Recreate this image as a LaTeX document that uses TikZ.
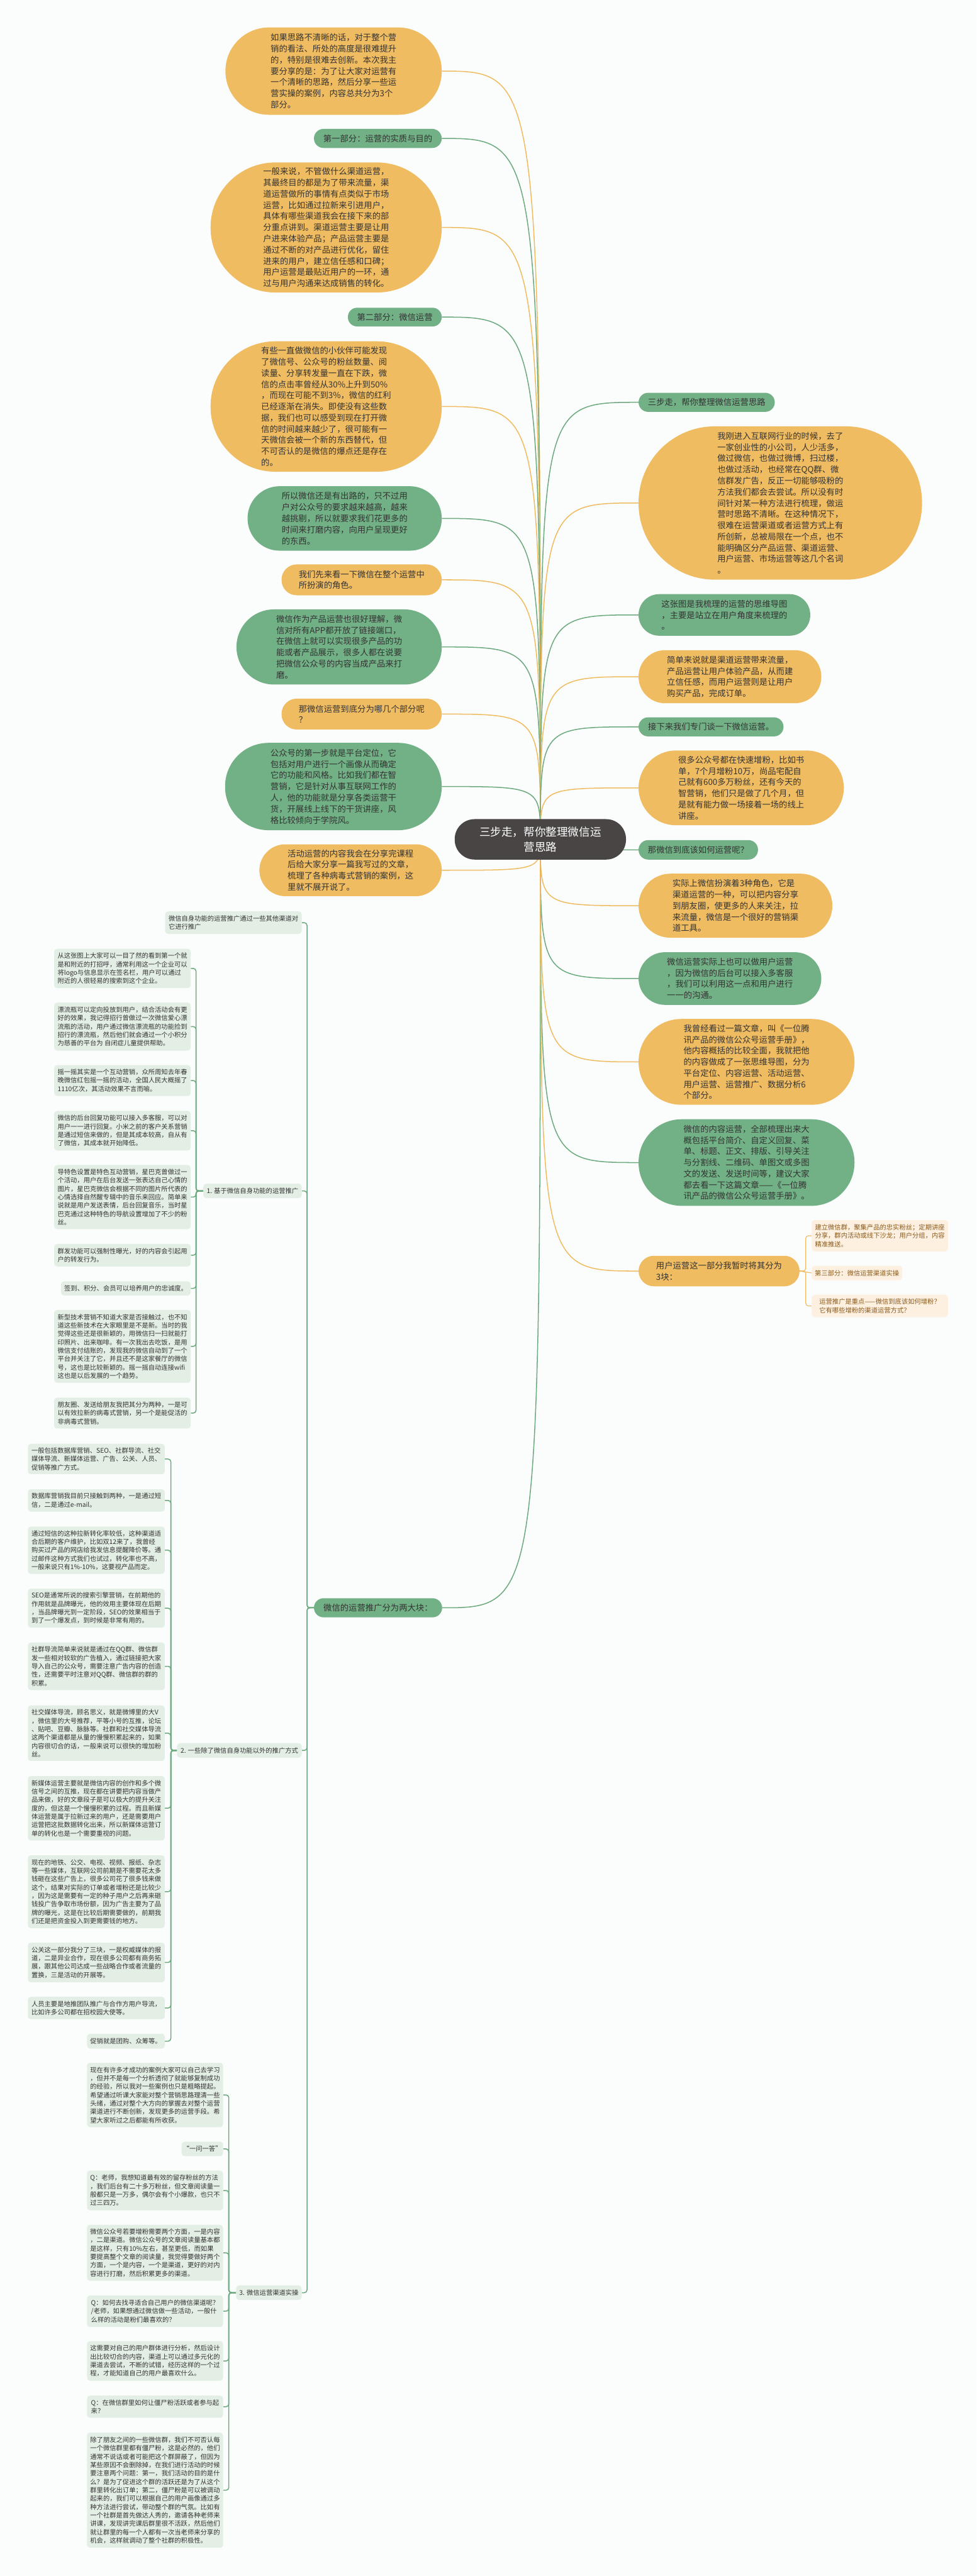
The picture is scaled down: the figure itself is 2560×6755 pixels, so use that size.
\documentclass[tikz,border=0pt]{standalone}
\usepackage{fontspec}
\setmainfont{Noto Sans CJK SC}
\usetikzlibrary{calc}
\pgfdeclarelayer{bg}
\pgfsetlayers{bg,main}
\definecolor{org}{HTML}{F0BC62}
\definecolor{grn}{HTML}{72B085}
\definecolor{dark}{HTML}{4A4545}
\definecolor{lgr}{HTML}{E3EEE5}
\definecolor{lor}{HTML}{FDF0E1}
\definecolor{brn}{HTML}{8A5A1A}
\definecolor{txt}{HTML}{333333}
\definecolor{bgc}{HTML}{FBFDFD}
\definecolor{gline}{HTML}{6DAA80}
\definecolor{oline}{HTML}{F0BC62}
\newcommand\fm{\fontsize{22}{29.3}\selectfont}
\newcommand\fl{\fontsize{17}{22}\selectfont}
\newcommand\fc{\fontsize{29}{39}\selectfont}
\begin{document}
\begin{tikzpicture}[x=1pt,y=-1pt,
 nb/.style={inner sep=0pt, align=left, text=txt, font=\fm},
 on/.style={nb, fill=org},
 gn/.style={nb, fill=grn},
 lf/.style={inner sep=0pt, align=left, text=txt, font=\fl, fill=lgr, rounded corners=8},
 lo/.style={inner sep=0pt, align=left, text=brn, font=\fl, fill=lor, rounded corners=8},
 gl/.style={draw=gline, line width=2.5pt},
 ol/.style={draw=oline, line width=2.5pt},
 tr/.style={draw=gline, line width=2.5pt, rounded corners=7},
]
\useasboundingbox (0,0) rectangle (2560,6755);
% ---------- central
\node[fill=dark, text=white, font=\fc, align=center, inner sep=0pt, minimum width=449, minimum height=106, rounded corners=52] (C) at (1416.5,2201) {三步走，帮你整理微信运\\营思路};
% ---------- upper left
\node[on, minimum width=567, minimum height=229, rounded corners=114] (U1) at (874.5,186.5) {如果思路不清晰的话，对于整个营\\销的看法、所处的高度是很难提升\\的，特别是很难去创新。本次我主\\要分享的是：为了让大家对运营有\\一个清晰的思路，然后分享一些运\\营实操的案例，内容总共分为3个\\部分。};
\node[gn, minimum width=335, minimum height=50, rounded corners=25] (U2) at (990.5,363) {第一部分：运营的实质与目的};
\node[on, minimum width=606, minimum height=341, rounded corners=170] (U3) at (855,596.5) {一般来说，不管做什么渠道运营，\\其最终目的都是为了带来流量，渠\\道运营做所的事情有点类似于市场\\运营，比如通过拉新来引进用户，\\具体有哪些渠道我会在接下来的部\\分重点讲到。渠道运营主要是让用\\户进来体验产品；产品运营主要是\\通过不断的对产品进行优化，留住\\进来的用户，建立信任感和口碑；\\用户运营是最贴近用户的一环，通\\过与用户沟通来达成销售的转化。};
\node[gn, minimum width=246, minimum height=49, rounded corners=24] (U4) at (1035,831.5) {第二部分：微信运营};
\node[on, minimum width=606, minimum height=342, rounded corners=170] (U5) at (855,1066) {有些一直做微信的小伙伴可能发现\\了微信号、公众号的粉丝数量、阅\\读量、分享转发量一直在下跌，微\\信的点击率曾经从30\%上升到50\%\\，而现在可能不到3\%，微信的红利\\已经逐渐在消失。即使没有这些数\\据，我们也可以感受到现在打开微\\信的时间越来越少了，很可能有一\\天微信会被一个新的东西替代，但\\不可否认的是微信的爆点还是存在\\的。};
\node[gn, minimum width=509, minimum height=169, rounded corners=84] (U6) at (903.5,1359.5) {所以微信还是有出路的，只不过用\\户对公众号的要求越来越高，越来\\越挑剔，所以就要求我们花更多的\\时间来打磨内容，向用户呈现更好\\的东西。};
\node[on, minimum width=420, minimum height=81, rounded corners=40] (U7) at (948,1520.5) {我们先来看一下微信在整个运营中\\所扮演的角色。};
\node[gn, minimum width=538, minimum height=197, rounded corners=98] (U8) at (889,1696.5) {微信作为产品运营也很好理解，微\\信对所有APP都开放了链接端口，\\在微信上就可以实现很多产品的功\\能或者产品展示，很多人都在说要\\把微信公众号的内容当成产品来打\\磨。};
\node[on, minimum width=420, minimum height=81, rounded corners=40] (U9) at (948,1872.5) {那微信运营到底分为哪几个部分呢\\？};
\node[gn, minimum width=568, minimum height=229, rounded corners=114] (U10) at (874,2062.5) {公众号的第一步就是平台定位，它\\包括对用户进行一个画像从而确定\\它的功能和风格。比如我们都在智\\营销，它是针对从事互联网工作的\\人，他的功能就是分享各类运营干\\货，开展线上线下的干货讲座，风\\格比较倾向于学院风。};
\node[on, minimum width=478, minimum height=136, rounded corners=68] (U11) at (919,2282) {活动运营的内容我会在分享完课程\\后给大家分享一篇我写过的文章，\\梳理了各种病毒式营销的案例，这\\里就不展开说了。};
% ---------- right
\node[gn, minimum width=357, minimum height=50, rounded corners=25] (R1) at (1852.5,1055) {三步走，帮你整理微信运营思路};
\node[on, minimum width=743, minimum height=402, rounded corners=200] (R2) at (2045.5,1319) {我刚进入互联网行业的时候，去了\\一家创业性的小公司，人少活多，\\做过微信，也做过微博，扫过楼，\\也做过活动，也经常在QQ群、微\\信群发广告，反正一切能够吸粉的\\方法我们都会去尝试。所以没有时\\间针对某一种方法进行梳理，做运\\营时思路不清晰。在这种情况下，\\很难在运营渠道或者运营方式上有\\所创新，总被局限在一个点，也不\\能明确区分产品运营、渠道运营、\\用户运营、市场运营等这几个名词\\。};
\node[gn, minimum width=450, minimum height=109, rounded corners=54] (R3) at (1899,1612.5) {这张图是我梳理的运营的思维导图\\，主要是站立在用户角度来梳理的\\。};
\node[on, minimum width=479, minimum height=139, rounded corners=69] (R4) at (1913.5,1774.5) {简单来说就是渠道运营带来流量，\\产品运营让用户体验产品，从而建\\立信任感，而用户运营则是让用户\\购买产品，完成订单。};
\node[gn, minimum width=380, minimum height=50, rounded corners=25] (R5) at (1864,1906) {接下来我们专门谈一下微信运营。};
\node[on, minimum width=538, minimum height=196, rounded corners=98] (R6) at (1943,2066) {很多公众号都在快速增粉，比如书\\单，7个月增粉10万，尚品宅配自\\己就有600多万粉丝，还有今天的\\智营销，他们只是做了几个月，但\\是就有能力做一场接着一场的线上\\讲座。};
\node[gn, minimum width=313, minimum height=51, rounded corners=25] (R7) at (1830.5,2228.5) {那微信到底该如何运营呢？};
\node[on, minimum width=508, minimum height=168, rounded corners=84] (R8) at (1928,2375) {实际上微信扮演着3种角色，它是\\渠道运营的一种，可以把内容分享\\到朋友圈，使更多的人来关注，拉\\来流量，微信是一个很好的营销渠\\道工具。};
\node[gn, minimum width=479, minimum height=138, rounded corners=69] (R9) at (1913.5,2566) {微信运营实际上也可以做用户运营\\，因为微信的后台可以接入多客服\\，我们可以利用这一点和用户进行\\一一的沟通。};
\node[on, minimum width=566, minimum height=225, rounded corners=112] (R10) at (1957,2784.5) {我曾经看过一篇文章，叫《一位腾\\讯产品的微信公众号运营手册》，\\他内容概括的比较全面，我就把他\\的内容做成了一张思维导图，分为\\平台定位、内容运营、活动运营、\\用户运营、运营推广、数据分析6\\个部分。};
\node[gn, minimum width=566, minimum height=227, rounded corners=113] (R11) at (1957,3048.5) {微信的内容运营，全部梳理出来大\\概包括平台简介、自定义回复、菜\\单、标题、正文、排版、引导关注\\与分割线、二维码、单图文或多图\\文的发送、发送时间等，建议大家\\都去看一下这篇文章——《一位腾\\讯产品的微信公众号运营手册》。};
\node[on, minimum width=422, minimum height=80, rounded corners=40] (R12) at (1885,3333) {用户运营这一部分我暂时将其分为\\3块：};
\node[lo, minimum width=357, minimum height=83] (K1) at (2306.5,3240.5) {建立微信群，聚集产品的忠实粉丝；定期讲座\\分享，群内活动或线下沙龙；用户分组，内容\\精准推送。};
\node[lo, minimum width=237, minimum height=38] (K2) at (2246.5,3338) {第三部分：微信运营渠道实操};
\node[lo, minimum width=357, minimum height=59] (K3) at (2306.5,3424.5) {运营推广是重点——微信到底该如何增粉？\\它有哪些增粉的渠道运营方式？};
% ---------- lower left tree
\node[gn, minimum width=336, minimum height=50, rounded corners=25] (P) at (991,4216) {微信的运营推广分为两大块：};
\node[lf, minimum width=358, minimum height=59] (A0) at (612,2419.5) {微信自身功能的运营推广通过一些其他渠道对\\它进行推广};
\node[lf, minimum width=258, minimum height=38] (A1) at (662,3123) {1. 基于微信自身功能的运营推广};
\node[lf, minimum width=327, minimum height=38] (A2) at (627.5,4590) {2. 一些除了微信自身功能以外的推广方式};
\node[lf, minimum width=172, minimum height=38] (A3) at (705,6012) {3. 微信运营渠道实操};
% A1 leaves
\node[lf, minimum width=358, minimum height=103] (S1) at (321,2539.5) {从这张图上大家可以一目了然的看到第一个就\\是和附近的打招呼，通常利用这一个企业可以\\将logo与信息显示在签名栏，用户可以通过\\附近的人很轻易的搜索到这个企业。};
\node[lf, minimum width=358, minimum height=126] (S2) at (321,2692) {漂流瓶可以定向投放到用户，结合活动会有更\\好的效果，我记得招行曾做过一次微信爱心漂\\流瓶的活动，用户通过微信漂流瓶的功能捡到\\招行的漂流瓶，然后他们就会通过一个小积分\\为慈善的平台为 自闭症儿童提供帮助。};
\node[lf, minimum width=358, minimum height=81] (S3) at (321,2833.5) {摇一摇其实是一个互动营销，众所周知去年春\\晚微信红包摇一摇的活动，全国人民大概摇了\\1110亿次，其活动效果不言而喻。};
\node[lf, minimum width=358, minimum height=104] (S4) at (321,2965) {微信的后台回复功能可以接入多客服，可以对\\用户一一进行回复。小米之前的客户关系营销\\是通过短信来做的，但是其成本较高，自从有\\了微信，其成本就开始降低。};
\node[lf, minimum width=358, minimum height=168] (S5) at (321,3139) {导特色设置是特色互动营销，星巴克曾做过一\\个活动，用户在后台发送一张表达自己心情的\\图片，星巴克微信会根据不同的图片所代表的\\心情选择自然醒专辑中的音乐来回应。简单来\\说就是用户发送表情，后台回复音乐，当时星\\巴克通过这种特色的导航设置增加了不少的粉\\丝。};
\node[lf, minimum width=358, minimum height=59] (S6) at (321,3291.5) {群发功能可以强制性曝光，好的内容会引起用\\户的转发行为。};
\node[lf, minimum width=340, minimum height=37] (S7) at (330,3378.5) {签到、积分、会员可以培养用户的忠诚度。};
\node[lf, minimum width=358, minimum height=191] (S8) at (321,3530.5) {新型技术营销不知道大家是否接触过，也不知\\道这些新技术在大家眼里是不是新。当时的我\\觉得这些还是很新颖的，用微信扫一扫就能打\\印照片、出来咖啡。有一次我出去吃饭，是用\\微信支付结账的，发现我的微信自动到了一个\\平台并关注了它，并且还不是这家餐厅的微信\\号，这也是比较新颖的。摇一摇自动连接wifi\\这也是以后发展的一个趋势。};
\node[lf, minimum width=358, minimum height=81] (S9) at (321,3705.5) {朋友圈、发送给朋友我把其分为两种，一是可\\以有效拉新的病毒式营销，另一个是能促活的\\非病毒式营销。};
% A2 leaves
\node[lf, minimum width=359, minimum height=80] (M1) at (252.5,3826) {一般包括数据库营销、SEO、社群导流、社交\\媒体导流、新媒体运营、广告、公关、人员、\\促销等推广方式。};
\node[lf, minimum width=359, minimum height=59] (M2) at (252.5,3934.5) {数据库营销我目前只接触到两种，一是通过短\\信，二是通过e-mail。};
\node[lf, minimum width=359, minimum height=124] (M3) at (252.5,4065) {通过短信的这种拉新转化率较低，这种渠道适\\合后期的客户维护，比如双12来了，我曾经\\购买过产品的网店给我发信息提醒降价等。通\\过邮件这种方式我们也试过，转化率也不高，\\一般来说只有1\%-10\%，这要视产品而定。};
\node[lf, minimum width=359, minimum height=102] (M4) at (252.5,4217) {SEO是通常所说的搜索引擎营销，在前期他的\\作用就是品牌曝光，他的效用主要体现在后期\\，当品牌曝光到一定阶段，SEO的效果相当于\\到了一个爆发点，到时候是非常有用的。};
\node[lf, minimum width=359, minimum height=125] (M5) at (252.5,4369.5) {社群导流简单来说就是通过在QQ群、微信群\\发一些相对较软的广告植入，通过链接把大家\\导入自己的公众号，需要注意广告内容的创造\\性，还需要平时注意对QQ群、微信群的群的\\积累。};
\node[lf, minimum width=359, minimum height=146] (M6) at (252.5,4545) {社交媒体导流，顾名思义，就是微博里的大V\\，微信里的大号推荐，平等小号的互推，论坛\\、贴吧、豆瓣、脉脉等。社群和社交媒体导流\\这两个渠道都是从量的慢慢积累起来的，如果\\内容很切合的话，一般来说可以很快的增加粉\\丝。};
\node[lf, minimum width=359, minimum height=169] (M7) at (252.5,4741.5) {新媒体运营主要就是微信内容的创作和多个微\\信号之间的互推，现在都在讲要把内容当做产\\品来做，好的文章段子是可以极大的提升关注\\度的，但这是一个慢慢积累的过程。而且新媒\\体运营是属于拉新过来的用户，还是需要用户\\运营把这批数据转化出来，所以新媒体运营订\\单的转化也是一个需要重视的问题。};
\node[lf, minimum width=359, minimum height=191] (M8) at (252.5,4960.5) {现在的地铁、公交、电视、视频、报纸、杂志\\等一些媒体，互联网公司前期是不需要花太多\\钱砸在这些广告上，很多公司花了很多钱来做\\这个，结果对实际的订单或者增粉还是比较少\\，因为这是需要有一定的种子用户之后再来砸\\钱投广告争取市场份额，因为广告主要为了品\\牌的曝光，这是在比较后期需要做的，前期我\\们还是把资金投入到更需要钱的地方。};
\node[lf, minimum width=359, minimum height=104] (M9) at (252.5,5146) {公关这一部分我分了三块，一是权威媒体的报\\道，二是异业合作，现在很多公司都有商务拓\\展，跟其他公司达成一些战略合作或者流量的\\置换，三是活动的开展等。};
\node[lf, minimum width=359, minimum height=59] (M10) at (252.5,5265.5) {人员主要是地推团队推广与合作方用户导流，\\比如许多公司都在招校园大使等。};
\node[lf, minimum width=204, minimum height=39] (M11) at (330,5352.5) {促销就是团购、众筹等。};
% A3 leaves
\node[lf, minimum width=357, minimum height=169] (N1) at (406.5,5493.5) {现在有许多才成功的案例大家可以自己去学习\\，但并不是每一个分析透彻了就能够复制成功\\的经验，所以我对一些案例也只是粗略提起。\\希望通过听课大家能对整个营销思路理清一些\\头绪，通过对整个大方向的掌握去对整个运营\\渠道进行不断创新，发现更多的运营手段。希\\望大家听过之后都能有所收获。};
\node[lf, minimum width=109, minimum height=38] (N2) at (530.5,5635) {“一问一答”};
\node[lf, minimum width=357, minimum height=104] (N3) at (406.5,5744) {Q：老师，我想知道最有效的留存粉丝的方法\\，我们后台有二十多万粉丝，但文章阅读量一\\般都只是一万多，偶尔会有个小爆款，也只不\\过三四万。};
\node[lf, minimum width=357, minimum height=147] (N4) at (406.5,5907.5) {微信公众号若要增粉需要两个方面，一是内容\\，二是渠道。微信公众号的文章阅读量基本都\\是这样，只有10\%左右，甚至更低，而如果\\要提高整个文章的阅读量，我觉得要做好两个\\方面，一个是内容，一个是渠道，更好的对内\\容进行打磨，然后积累更多的渠道。};
\node[lf, minimum width=357, minimum height=83] (N5) at (406.5,6060.5) {Q：如何去找寻适合自己用户的微信渠道呢？\\/老师，如果想通过微信做一些活动，一般什\\么样的活动是粉们最喜欢的？};
\node[lf, minimum width=357, minimum height=104] (N6) at (406.5,6191) {这需要对自己的用户群体进行分析，然后设计\\出比较切合的内容，渠道上可以通过多元化的\\渠道去尝试，不断的试错，经历这样的一个过\\程，才能知道自己的用户最喜欢什么。};
\node[lf, minimum width=357, minimum height=58] (N7) at (406.5,6311) {Q：在微信群里如何让僵尸粉活跃或者参与起\\来？};
\node[lf, minimum width=357, minimum height=302] (N8) at (406.5,6530) {除了朋友之间的一些微信群，我们不可否认每\\一个微信群里都有僵尸粉，这是必然的，他们\\通常不说话或者可能把这个群屏蔽了，但因为\\某些原因不会删除掉，在我们进行活动的时候\\要注意两个问题：第一，我们活动的目的是什\\么？是为了促进这个群的活跃还是为了从这个\\群里转化出订单；第二，僵尸粉是可以被调动\\起来的，我们可以根据自己的用户画像通过多\\种方法进行尝试，带动整个群的气氛。比如有\\一个社群是首先做达人秀的，邀请各种老师来\\讲课，发现讲完课后群里很不活跃，然后他们\\就让群里的每一个人都有一次当老师来分享的\\机会，这样就调动了整个社群的积极性。};
% ---------- connectors
\begin{pgfonlayer}{bg}
\fill[bgc] (0,0) rectangle (2560,6755);
\foreach \n/\s in {U1/ol,U2/gl,U3/ol,U4/gl,U5/ol,U6/gl,U7/ol,U8/gl,U9/ol,U10/gl,U11/ol,P/gl}
  \draw[\s] (C.center) .. controls (C.center |- \n.east) .. (\n.east);
\foreach \n/\s in {R1/gl,R2/ol,R3/gl,R4/ol,R5/gl,R6/ol,R7/gl,R8/ol,R9/gl,R10/ol,R11/gl,R12/ol}
  \draw[\s] (C.center) .. controls (C.center |- \n.west) .. (\n.west);
\draw[ol, line width=2pt, rounded corners=7] (R12.east) -- ++(16,0) |- (K1.west);
\draw[ol, line width=2pt] (R12.east) -- (K2.west);
\draw[ol, line width=2pt, rounded corners=7] (R12.east) -- ++(16,0) |- (K3.west);
\foreach \n in {A0,A1,A2,A3}
  \draw[tr] (P.west) -- ++(-18,0) |- (\n.east);
\foreach \n in {S1,S2,S3,S4,S5,S6,S7,S8,S9}
  \draw[tr] (A1.west) -- ++(-19,0) |- (\n.east);
\foreach \n in {M1,M2,M3,M4,M5,M6,M7,M8,M9,M10,M11}
  \draw[tr] (A2.west) -- ++(-16,0) |- (\n.east);
\foreach \n in {N1,N2,N3,N4,N5,N6,N7,N8}
  \draw[tr] (A3.west) -- ++(-19,0) |- (\n.east);
\end{pgfonlayer}
\end{tikzpicture}
\end{document}
